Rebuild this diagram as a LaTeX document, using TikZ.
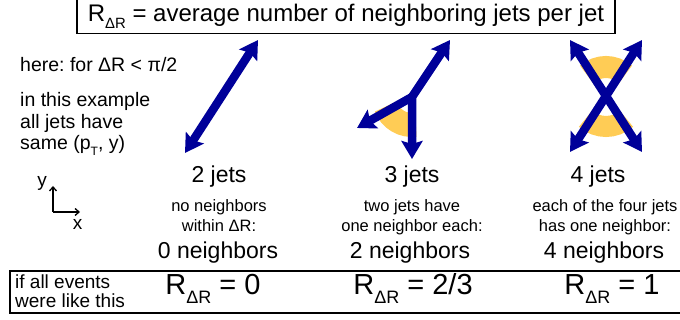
\documentclass[tikz,border=0pt]{standalone}
\usepackage{fontspec}
\setmainfont{Liberation Sans}
\usepackage{graphicx}
\usetikzlibrary{arrows.meta,positioning}
\frenchspacing
\definecolor{jetblue}{RGB}{0,0,153}
\definecolor{fanyellow}{RGB}{255,204,85}
\newcommand{\lowsub}[1]{\raisebox{-.3em}{\scalebox{.62}{#1}}}
\newcommand{\RdR}{R\lowsub{ΔR}}
\tikzset{
  jet/.style={draw=jetblue, line width=8.5pt, line join=miter,
    {Stealth[length=18pt,width=21pt,inset=3pt]}-{Stealth[length=18pt,width=21pt,inset=3pt]}},
  jetone/.style={draw=jetblue, line width=8.5pt, line cap=round,
    -{Stealth[length=18pt,width=21pt,inset=3pt]}},
  nbrfan/.style={draw=fanyellow},
  axis/.style={-{Straight Barb[length=4pt,width=7pt]}, line width=1.3pt},
  titlebox/.style={draw, line width=1.2pt, minimum width=538pt, minimum height=34pt, inner sep=0pt,
    font=\fontsize{24}{28}\selectfont},
  note/.style={anchor=base west, align=left, inner sep=0pt, font=\fontsize{19.5}{21.5}\selectfont},
  count/.style={anchor=base, inner sep=0pt, font=\fontsize{23}{27}\selectfont},
  desc/.style={anchor=base, align=center, inner sep=0pt, font=\fontsize{16.5}{20}\selectfont},
  ratio/.style={anchor=base, inner sep=0pt, font=\fontsize{29}{33}\selectfont}
}
\begin{document}
\begin{tikzpicture}[x=1pt, y=1pt]
\useasboundingbox (0,0) rectangle (680,320);

\node[titlebox] (title) at (346,303.5) {\RdR{} = average number of neighboring jets per jet};

% left notes
\node[note] (here) at (20,248) {here: for ΔR < π/2};
\node[note] (same) at (20,170) {in this example\\all jets have\\same (p\lowsub{T}, y)};

% axes
\coordinate (origin) at (53,108);
\coordinate (yend) at (53,134);
\coordinate (xend) at (80,108);
\draw[axis] (origin) -- (yend);
\draw[axis] (origin) -- (xend);
\node[font=\fontsize{19}{21}\selectfont, inner sep=0pt] (ylab) at (42,137) {y};
\node[font=\fontsize{19}{21}\selectfont, inner sep=0pt] (xlab) at (77.5,96) {x};

% 2 jets
\coordinate (a1) at (258,280);
\coordinate (a2) at (185,167);
\draw[jet] (a2) -- (a1);

% 3 jets
\coordinate (v3) at (412,223);
\coordinate (b1) at (450,280);
\coordinate (b2) at (357,192);
\coordinate (b3) at (412,161);
\draw[nbrfan, line width=24pt] (v3) ++(200:28) arc (200:278:28);
\draw[jet] (b1) -- (v3) -- (b3);
\draw[jetone] (v3) -- (b2);

% 4 jets
\coordinate (v4) at (606,224);
\coordinate (c1) at (570,280);
\coordinate (c2) at (642,280);
\coordinate (c3) at (570,168);
\coordinate (c4) at (642,168);
\draw[nbrfan, line width=22pt] (v4) ++(48:29) arc (48:132:29);
\draw[nbrfan, line width=21pt] (v4) ++(228:30.5) arc (228:312:30.5);
\draw[jet] (c3) -- (c2);
\draw[jet] (c4) -- (c1);

% column texts
\node[count] (jets2) at (219,137) {2 jets};
\node[count] (jets3) at (412,137) {3 jets};
\node[count] (jets4) at (598,137) {4 jets};
\node[desc] (desc2) at (219,88) {no neighbors\\within ΔR:};
\node[desc] (desc3) at (412,88) {two jets have\\one neighbor each:};
\node[desc] (desc4) at (605,88) {each of the four jets\\has one neighbor:};
\node[count] (nb2) at (218,61) {0 neighbors};
\node[count] (nb3) at (410,61) {2 neighbors};
\node[count] (nb4) at (604,61) {4 neighbors};

% bottom row
\draw[line width=1.2pt] (10,7) rectangle (700,49);
\node[note, font=\fontsize{19}{19}\selectfont] (ifall) at (15,12) {if all events\\were like this};
\node[ratio] (r2) at (213,25) {\RdR{} = 0};
\node[ratio] (r3) at (413,25) {\RdR{} = 2/3};
\node[ratio] (r4) at (612,25) {\RdR{} = 1};
\end{tikzpicture}
\end{document}
